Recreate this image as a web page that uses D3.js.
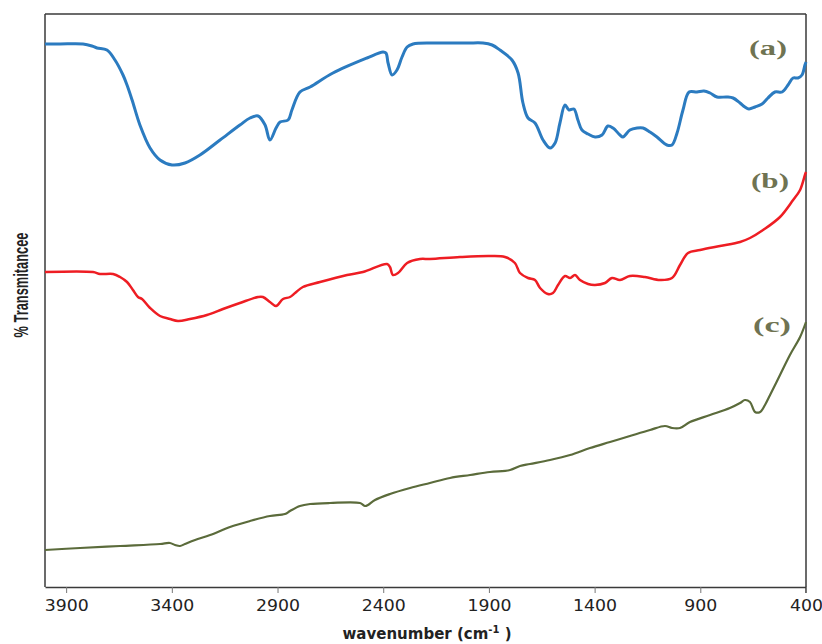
<!DOCTYPE html>
<html>
<head>
<meta charset="utf-8">
<script src="https://cdn.jsdelivr.net/npm/d3@7"></script>
<style>
  html, body { margin: 0; padding: 0; background: #fff; }
  svg { display: block; }
</style>
</head>
<body>
<svg id="chart" width="822" height="644"></svg>
<script>
// FTIR spectra: wavenumber (cm^-1) vs transmittance (arbitrary offset units)
const xTicks = [3900, 3400, 2900, 2400, 1900, 1400, 900, 400];
const seriesNames = ["(a)", "(b)", "(c)"];

const wavenumberA = [4000,3929,3820,3778,3754,3707,3669,3631,3612,3588,3551,3503,3456,3399,3338,3267,3172,3078,3030,2992,2959,2936,2907,2888,2850,2832,2794,2746,2638,2477,2401,2387,2377,2358,2335,2311,2287,2259,2165,2004,1928,1885,1848,1791,1762,1739,1715,1682,1644,1611,1587,1564,1540,1521,1498,1479,1460,1431,1398,1365,1337,1313,1280,1266,1233,1199,1171,1138,1105,1058,1034,1010,982,953,916,883,854,821,774,745,712,689,670,641,608,580,547,513,485,461,438,419,405,400];
const transA = [543,543,543,541,539,537,527,512,502,487,462,439,427,422,424,432,447,462,469,471,462,447,459,465,467,477,495,500,514,529,535,534,524,512,517,530,540,543,544,544,544,542,537,527,514,484,469,464,447,439,444,464,482,477,478,467,457,453,450,452,461,459,452,450,457,459,459,455,450,442,442,454,477,495,495,496,494,490,490,489,484,480,478,480,483,489,495,495,502,509,509,512,522,525];

const wavenumberB = [4000,3773,3740,3678,3645,3612,3584,3560,3541,3503,3456,3409,3371,3314,3234,3158,3078,2992,2969,2936,2907,2874,2841,2817,2780,2699,2571,2496,2382,2368,2354,2330,2287,2226,2179,2037,1895,1824,1777,1753,1715,1682,1658,1621,1597,1573,1540,1516,1493,1469,1431,1398,1351,1318,1280,1233,1162,1091,1034,996,958,901,807,712,665,603,523,461,428,405,400];
const transB = [315,315,313,313,310,305,297,290,288,279,271,268,266,268,272,278,284,290,290,285,281,288,290,294,300,305,312,315,323,320,312,314,324,328,328,330,331,330,324,314,309,307,299,293,294,302,311,309,312,307,303,302,304,309,307,311,310,307,309,322,334,337,341,345,349,357,370,387,397,412,415];

const wavenumberC = [4000,3834,3645,3456,3409,3385,3361,3338,3290,3219,3125,3030,2936,2865,2841,2794,2746,2652,2510,2486,2472,2439,2368,2273,2179,2084,1989,1895,1800,1753,1706,1611,1516,1422,1327,1233,1138,1067,1034,996,949,854,760,712,689,665,641,617,594,570,523,476,428,400];
const transC = [37,39,41,43,44,42,41,43,47,52,60,66,71,73,76,81,83,84,84,81,82,87,93,99,104,109,112,115,117,121,123,127,132,139,145,151,157,161,159,159,165,172,179,184,187,185,175,175,182,192,212,232,250,265];

const margin = { left: 45, right: 16, top: 14, bottom: 57 };
const W = 822, H = 644;
const svg = d3.select("#chart");

const x = d3.scaleLinear().domain([4000, 400]).range([margin.left, W - margin.right]);
const y = d3.scaleLinear().domain([0, 573]).range([H - margin.bottom, margin.top]);

const frameColor = "#3a3a3a";

// frame
svg.append("line").attr("x1", x(4000)).attr("x2", x(400)).attr("y1", y(573)).attr("y2", y(573))
  .attr("stroke", frameColor).attr("stroke-width", 1.5);
svg.append("line").attr("x1", x(4000)).attr("x2", x(4000)).attr("y1", y(573)).attr("y2", y(0))
  .attr("stroke", frameColor).attr("stroke-width", 1.5);
svg.append("line").attr("x1", x(400)).attr("x2", x(400)).attr("y1", y(573)).attr("y2", y(0) + 6)
  .attr("stroke", frameColor).attr("stroke-width", 1.5);

// bottom axis
const xAxis = d3.axisBottom(x).tickValues(xTicks).tickSize(6).tickSizeOuter(0).tickPadding(7)
  .tickFormat(d3.format("d"));
const gx = svg.append("g").attr("transform", `translate(0,${y(0)})`).call(xAxis);
gx.select(".domain").attr("stroke", frameColor).attr("stroke-width", 1.3);
gx.selectAll(".tick line").attr("stroke", "#777").attr("stroke-width", 1);
gx.selectAll(".tick text")
  .attr("fill", "#222")
  .style("font-family", "'DejaVu Sans', Verdana, sans-serif")
  .style("font-size", "15px")
  .attr("textLength", d => String(d).length * 11)
  .attr("lengthAdjust", "spacingAndGlyphs");

// axis titles
const xt = svg.append("text")
  .attr("x", 427).attr("y", 639)
  .attr("text-anchor", "middle")
  .style("font-family", "'DejaVu Sans', Verdana, sans-serif")
  .style("font-size", "15px").style("font-weight", "bold")
  .attr("fill", "#222");
xt.append("tspan").text("wavenumber (cm");
xt.append("tspan").attr("dy", -6).style("font-size", "10px").text("-1");
xt.append("tspan").attr("dy", 6).text(" )");

svg.append("text")
  .attr("transform", `translate(28,285) rotate(-90) scale(1,1.35)`)
  .attr("text-anchor", "middle")
  .style("font-family", "'Liberation Sans', Arial, sans-serif")
  .style("font-size", "15px").style("font-weight", "bold")
  .attr("textLength", 105).attr("lengthAdjust", "spacingAndGlyphs")
  .attr("fill", "#222")
  .text("% Transmitancee");

// spectra
const line = d3.line()
  .x(d => x(d[0])).y(d => y(d[1]))
  .curve(d3.curveCatmullRom.alpha(0.5));

const series = [
  { wn: wavenumberA, t: transA, color: "#2b7bc0", width: 3 },
  { wn: wavenumberB, t: transB, color: "#ee1d23", width: 2.5 },
  { wn: wavenumberC, t: transC, color: "#5b6b3b", width: 2.2 }
];

series.forEach(s => {
  svg.append("path")
    .datum(d3.zip(s.wn, s.t))
    .attr("d", line)
    .attr("fill", "none")
    .attr("stroke", s.color)
    .attr("stroke-width", s.width)
    .attr("stroke-linejoin", "round");
});

// curve labels
const labelPos = [[768, 55], [770, 188], [772, 332]];
svg.selectAll(".series-label")
  .data(seriesNames)
  .join("text")
  .attr("class", "series-label")
  .attr("x", (d, i) => labelPos[i][0])
  .attr("y", (d, i) => labelPos[i][1])
  .attr("text-anchor", "middle")
  .style("font-family", "'Liberation Serif', 'Times New Roman', serif")
  .style("font-size", "20px").style("font-weight", "bold")
  .attr("textLength", 38).attr("lengthAdjust", "spacingAndGlyphs")
  .attr("fill", "#6f7352")
  .text(d => d);
</script>
</body>
</html>
